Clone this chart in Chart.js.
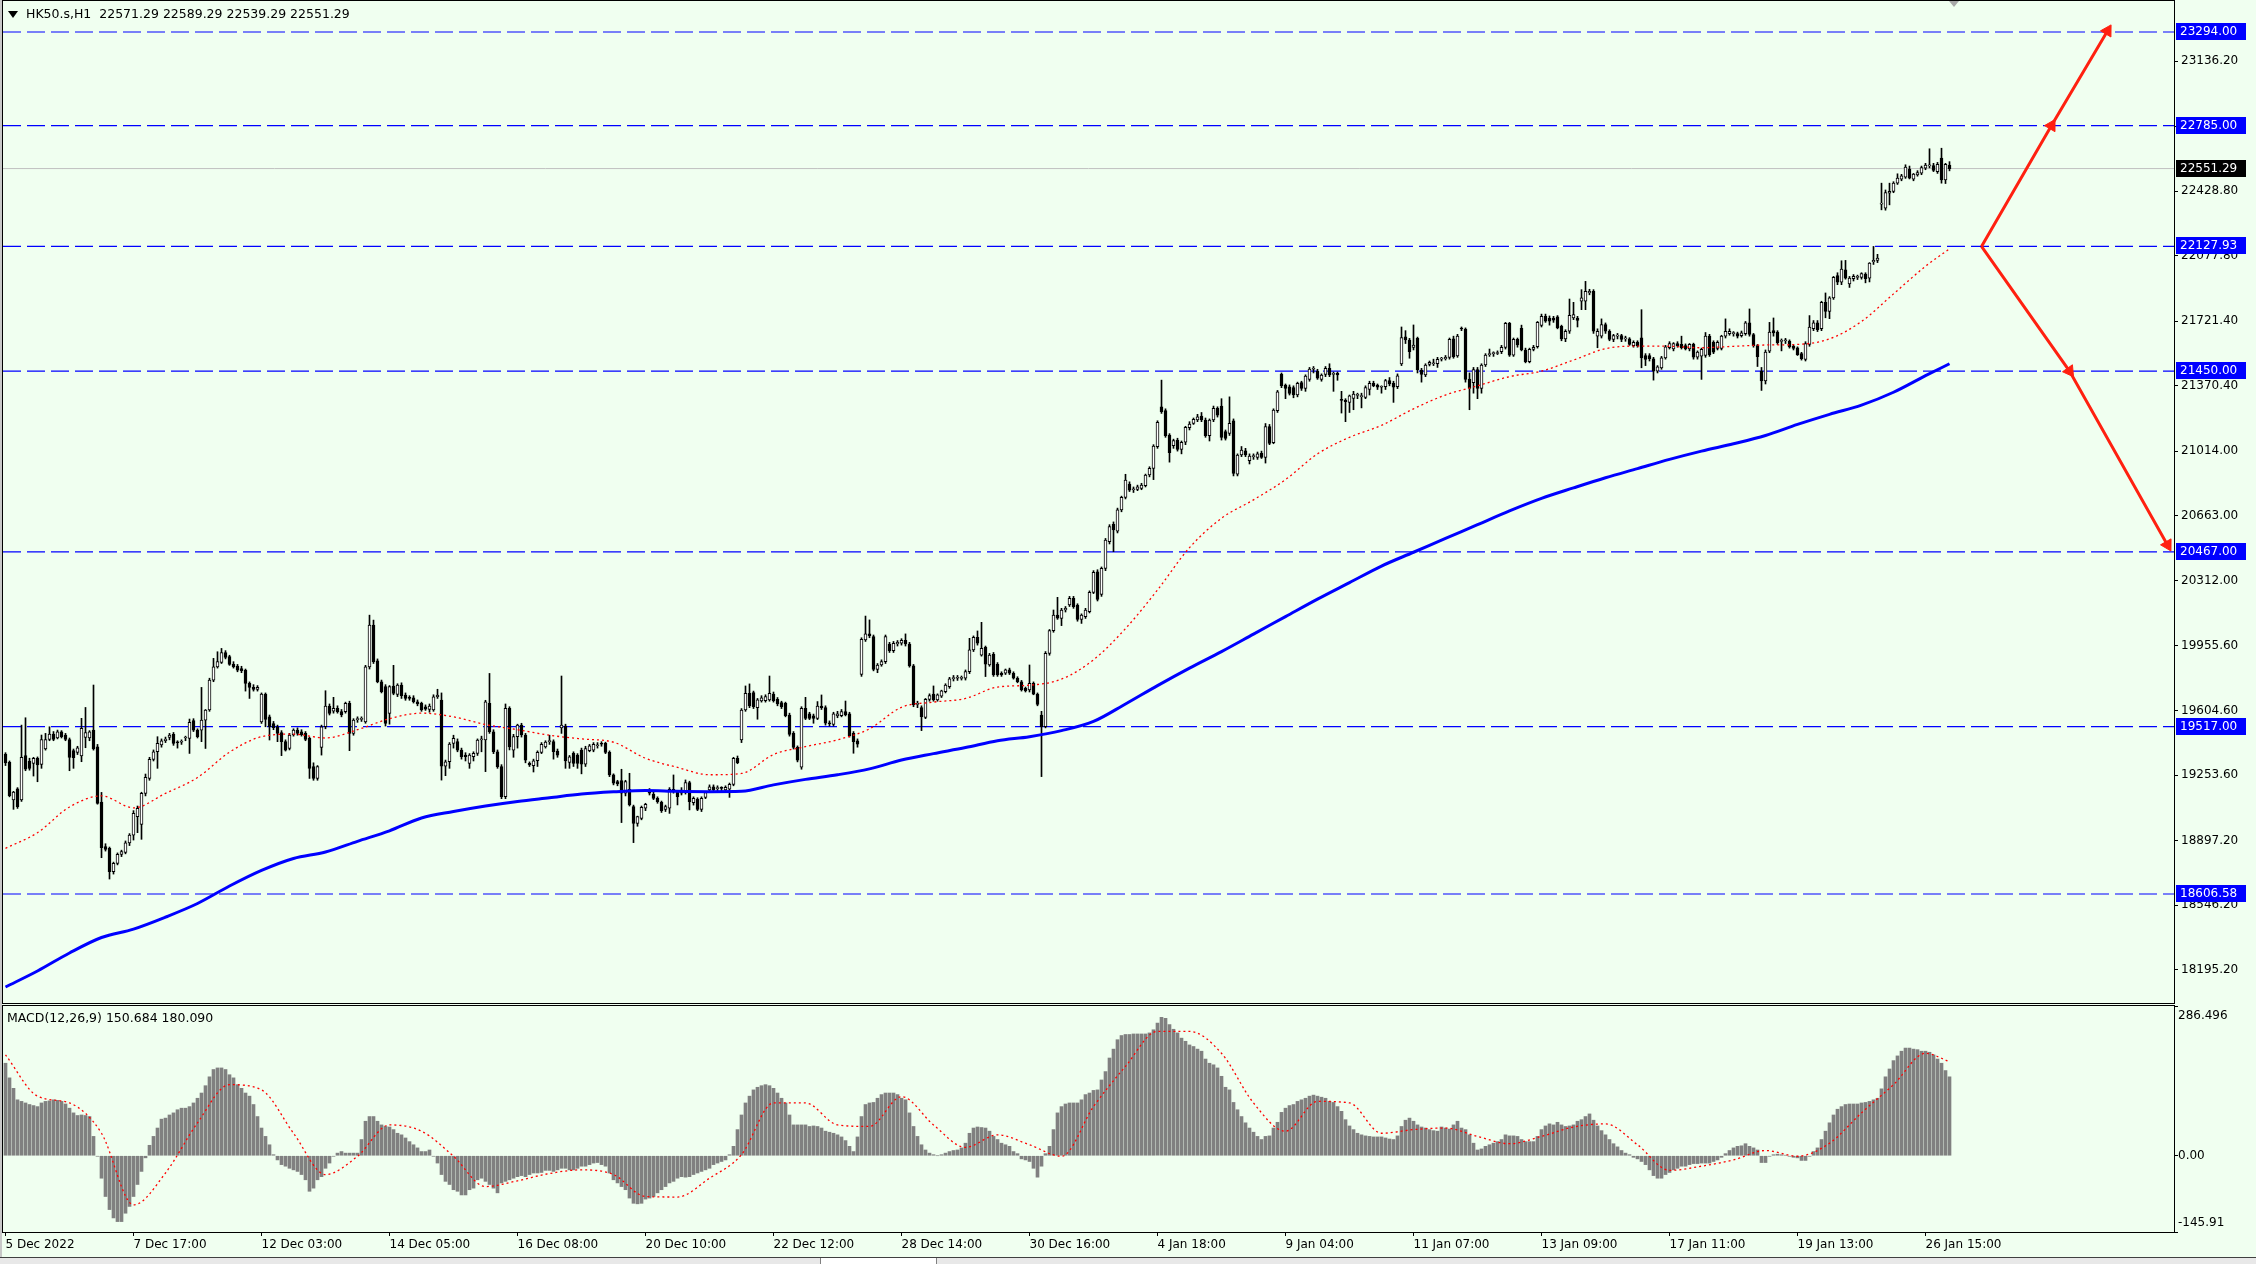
<!DOCTYPE html>
<html>
<head>
<meta charset="utf-8">
<script src="https://cdn.jsdelivr.net/npm/chart.js@4.4.1/dist/chart.umd.min.js"></script>
<style>
  html, body { margin: 0; padding: 0; background: #f0fff0; }
  body { width: 2256px; height: 1264px; position: relative; overflow: hidden; font-family: "DejaVu Sans", sans-serif; }
  canvas { position: absolute; left: 0; }
  #main { top: 0; }
  #macd { top: 1005px; }
  .txt { position: absolute; font-size: 12.5px; line-height: 16px; color: #000; white-space: pre; }
  #title { left: 26px; top: 6px; }
  #tri { position: absolute; left: 8px; top: 11px; width: 0; height: 0;
         border-left: 5px solid transparent; border-right: 5px solid transparent; border-top: 7px solid #000; }
  #shift { position: absolute; left: 1949px; top: 1px; width: 0; height: 0;
           border-left: 5px solid transparent; border-right: 5px solid transparent; border-top: 6px solid #a8a8a8; }
  #macdLabel { left: 7px; top: 1010px; }
  #edge { position: absolute; left: 0; top: 0; width: 2px; height: 1257px; background: #c8c8c8; }
  #strip { position: absolute; left: 0; top: 1257px; width: 2256px; height: 7px; background: #e8e8e8; border-top: 1px solid #404040; }
  #tab { position: absolute; left: 820px; top: 1258px; width: 115px; height: 6px; background: #fff; border-left: 1px solid #808080; border-right: 1px solid #808080; }
</style>
</head>
<body>
<canvas id="main" width="2256" height="1004"></canvas>
<canvas id="macd" width="2256" height="252"></canvas>
<div id="edge"></div>
<div id="tri"></div>
<div class="txt" id="title">HK50.s,H1  22571.29 22589.29 22539.29 22551.29</div>
<div id="shift"></div>
<div class="txt" id="macdLabel">MACD(12,26,9) 150.684 180.090</div>
<div id="strip"></div>
<div id="tab"></div>
<script>
// horizontal levels drawn on the chart
const levels = [23294.00, 22785.00, 22127.93, 21450.00, 20467.00, 19517.00, 18606.58];
const bidPrice = 22551.29;

// right price axis
const priceTicks = [23136.2, 22782.4, 22428.8, 22077.8, 21721.4, 21370.4, 21014.0, 20663.0,
                    20312.0, 19955.6, 19604.6, 19253.6, 18897.2, 18546.2, 18195.2];
const macdAxisLabels = ['286.496', '0.00', '-145.91'];

// time axis (one label every 32 H1 bars)
const timeTickBars = [0, 32, 64, 96, 128, 160, 192, 224, 256, 288, 320, 352, 384, 416, 448, 480];
const timeLabels = ['5 Dec 2022', '7 Dec 17:00', '12 Dec 03:00', '14 Dec 05:00', '16 Dec 08:00',
                    '20 Dec 10:00', '22 Dec 12:00', '28 Dec 14:00', '30 Dec 16:00', '4 Jan 18:00',
                    '9 Jan 04:00', '11 Jan 07:00', '13 Jan 09:00', '17 Jan 11:00', '19 Jan 13:00',
                    '26 Jan 15:00'];

// HK50 H1 candles: [open, high, low, close]
const ohlc = [
  // 0
  [19368,19375,19305,19320],[19322,19330,19135,19141],[19118,19165,19067,19161],[19179,19185,19072,19081],
  [19118,19525,19110,19350],[19359,19565,19277,19286],[19330,19345,19280,19290],[19317,19350,19248,19344],
  [19344,19352,19217,19308],[19311,19471,19290,19447],
  // 10
  [19395,19480,19389,19447],[19447,19516,19440,19476],[19476,19490,19440,19447],[19456,19498,19450,19489],
  [19489,19495,19455,19462],[19471,19480,19440,19447],[19447,19455,19277,19350],[19386,19395,19290,19348],
  [19377,19410,19365,19402],[19357,19562,19326,19507],
  // 20
  [19458,19621,19402,19484],[19456,19495,19440,19489],[19498,19743,19389,19395],[19407,19420,19095,19099],
  [19107,19159,18804,18858],[18864,18880,18840,18849],[18855,18862,18688,18728],[18728,18780,18715,18773],
  [18773,18830,18765,18822],[18822,18845,18810,18837],
  // 30
  [18833,18895,18825,18885],[18885,18935,18870,18927],[18927,19060,18900,19045],[19027,19085,18940,19072],
  [18985,19160,18904,19154],[19154,19259,19140,19241],[19235,19350,19225,19339],[19339,19390,19330,19380],
  [19380,19462,19290,19426],[19417,19450,19405,19440],
  // 40
  [19440,19460,19430,19449],[19458,19480,19445,19471],[19475,19485,19415,19426],[19430,19440,19400,19429],
  [19432,19445,19420,19435],[19455,19465,19440,19458],[19453,19558,19371,19540],[19549,19560,19490,19498],
  [19498,19505,19455,19462],[19498,19730,19435,19552],
  // 50
  [19552,19610,19398,19607],[19607,19780,19600,19770],[19770,19888,19761,19842],[19842,19924,19835,19870],
  [19866,19942,19860,19919],[19919,19930,19885,19893],[19897,19905,19850,19855],[19855,19870,19835,19842],
  [19846,19855,19815,19824],[19833,19845,19810,19821],
  // 60
  [19824,19830,19710,19752],[19752,19760,19670,19730],[19730,19745,19710,19719],[19719,19740,19710,19730],
  [19543,19700,19534,19694],[19694,19700,19516,19556],[19570,19580,19444,19516],[19534,19545,19500,19511],
  [19516,19525,19435,19480],[19485,19495,19359,19435],
  // 70
  [19435,19445,19384,19389],[19398,19480,19390,19471],[19471,19505,19465,19498],[19498,19510,19470,19480],
  [19489,19500,19465,19473],[19480,19490,19440,19447],[19453,19460,19235,19290],[19299,19320,19225,19235],
  [19235,19305,19225,19299],[19404,19525,19362,19516],
  // 80
  [19516,19712,19505,19629],[19629,19640,19580,19589],[19601,19676,19590,19616],[19616,19630,19590,19598],
  [19598,19610,19570,19580],[19598,19650,19590,19643],[19643,19655,19386,19480],[19480,19560,19470,19552],
  [19555,19570,19540,19558],[19556,19570,19545,19560],
  // 90
  [19543,19850,19535,19842],[19842,20123,19830,20069],[20069,20096,19860,19870],[19875,19885,19755,19761],
  [19761,19770,19700,19707],[19734,19745,19520,19534],[19589,19740,19530,19734],[19737,19850,19690,19697],
  [19692,19750,19680,19743],[19743,19755,19670,19685],
  // 100
  [19688,19700,19660,19670],[19672,19685,19660,19670],[19674,19685,19645,19652],[19652,19662,19630,19640],
  [19643,19650,19600,19607],[19625,19635,19605,19612],[19610,19640,19595,19629],[19607,19690,19600,19679],
  [19679,19720,19670,19688],[19661,19700,19226,19302],
  // 110
  [19302,19335,19250,19326],[19326,19430,19290,19422],[19426,19470,19400,19453],[19435,19450,19380,19389],
  [19389,19400,19340,19353],[19362,19375,19330,19353],[19317,19370,19290,19362],[19353,19380,19330,19371],
  [19371,19450,19360,19444],[19444,19465,19380,19450],
  // 120
  [19444,19660,19272,19652],[19643,19806,19480,19489],[19489,19500,19370,19380],[19380,19390,19290,19299],
  [19299,19310,19125,19136],[19136,19640,19125,19616],[19616,19625,19390,19407],[19389,19475,19350,19462],
  [19462,19530,19400,19525],[19525,19535,19460,19471],
  // 130
  [19471,19480,19320,19335],[19317,19325,19300,19308],[19304,19340,19270,19331],[19331,19385,19300,19377],
  [19377,19430,19370,19420],[19407,19440,19400,19433],[19435,19470,19420,19437],[19435,19445,19340,19380],
  [19384,19395,19350,19362],[19510,19792,19480,19525],
  // 140
  [19520,19530,19290,19330],[19322,19360,19290,19353],[19371,19380,19300,19317],[19362,19370,19290,19317],
  [19389,19400,19260,19313],[19313,19410,19300,19398],[19386,19420,19380,19413],[19389,19430,19380,19420],
  [19413,19430,19400,19415],[19422,19435,19410,19421],
  // 150
  [19426,19432,19370,19377],[19377,19385,19245,19254],[19254,19260,19200,19209],[19218,19225,19195,19205],
  [19223,19285,18995,19155],[19155,19225,19140,19218],[19176,19263,19085,19091],[19082,19090,18886,18991],
  [18991,19030,18975,19027],[19018,19085,19010,19078],
  // 160
  [19073,19100,19060,19094],[19167,19180,19145,19155],[19149,19160,19120,19127],[19127,19135,19100,19109],
  [19105,19112,19050,19060],[19067,19090,19055,19082],[19073,19185,19045,19176],[19176,19254,19155,19163],
  [19163,19170,19091,19136],[19172,19185,19145,19155],
  // 170
  [19160,19227,19150,19212],[19212,19220,19064,19109],[19103,19135,19090,19127],[19123,19130,19060,19067],
  [19067,19135,19055,19127],[19132,19165,19125,19158],[19172,19200,19165,19190],[19190,19200,19165,19172],
  [19180,19195,19165,19181],[19182,19190,19160,19181],
  // 180
  [19172,19195,19165,19187],[19176,19210,19132,19203],[19203,19350,19195,19345],[19345,19357,19315,19321],
  [19444,19615,19430,19607],[19607,19738,19600,19698],[19698,19749,19620,19629],[19702,19710,19615,19625],
  [19620,19670,19557,19662],[19656,19685,19650,19674],
  // 190
  [19658,19690,19650,19680],[19662,19792,19655,19698],[19694,19705,19650,19658],[19665,19675,19630,19640],
  [19647,19655,19615,19625],[19644,19650,19570,19577],[19580,19590,19465,19475],[19480,19490,19395,19404],
  [19404,19412,19325,19335],[19296,19625,19285,19616],
  // 200
  [19616,19676,19555,19562],[19586,19595,19555,19562],[19575,19585,19535,19562],[19562,19653,19555,19629],
  [19629,19689,19610,19620],[19620,19630,19525,19535],[19538,19548,19520,19531],[19529,19595,19520,19586],
  [19575,19600,19565,19586],[19577,19610,19570,19598],
  // 210
  [19598,19656,19575,19580],[19586,19595,19460,19468],[19480,19490,19372,19435],[19439,19450,19405,19421],
  [19801,20000,19790,19992],[19988,20118,19980,20021],[20021,20097,20000,20010],[20006,20015,19820,19828],
  [19828,19860,19810,19852],[19852,19880,19845,19870],
  // 220
  [19870,20015,19860,20006],[19966,19975,19920,19930],[19930,19980,19920,19970],[19966,19985,19955,19975],
  [19970,19995,19960,19986],[19986,20021,19955,19966],[19966,19975,19840,19847],[19847,19855,19625,19635],
  [19638,19655,19620,19640],[19620,19630,19495,19571],
  // 230
  [19567,19670,19560,19665],[19665,19695,19655,19685],[19694,19738,19655,19662],[19662,19695,19655,19689],
  [19683,19715,19675,19711],[19707,19750,19700,19743],[19734,19785,19725,19776],[19778,19795,19765,19780],
  [19780,19795,19768,19781],[19779,19792,19770,19781],
  // 240
  [19780,19825,19770,19816],[19816,19997,19805,19934],[19934,20010,19925,20002],[20002,20037,19960,19970],
  [19906,20084,19900,19943],[19948,19955,19789,19856],[19852,19915,19845,19906],[19910,19920,19790,19798],
  [19856,19865,19790,19798],[19807,19815,19790,19798],
  // 250
  [19807,19830,19800,19825],[19825,19835,19800,19807],[19807,19815,19775,19780],[19780,19788,19755,19761],
  [19761,19768,19710,19716],[19725,19732,19705,19711],[19716,19852,19705,19752],[19752,19760,19690,19693],
  [19694,19700,19630,19638],[19580,19600,19245,19517],
  // 260
  [19517,19925,19510,19915],[19915,20045,19905,20039],[20039,20151,20030,20124],[20124,20220,20100,20106],
  [20105,20160,20066,20151],[20151,20170,20140,20160],[20178,20225,20170,20214],[20214,20225,20160,20169],
  [20178,20185,20090,20100],[20100,20130,20078,20124],
  // 270
  [20115,20160,20105,20151],[20142,20255,20135,20247],[20247,20365,20240,20356],[20359,20370,20200,20209],
  [20236,20385,20225,20377],[20377,20540,20365,20531],[20522,20615,20510,20604],[20617,20630,20468,20586],
  [20580,20705,20570,20695],[20695,20770,20685,20763],
  // 280
  [20763,20889,20755,20858],[20836,20848,20795,20803],[20805,20820,20790,20807],[20807,20830,20800,20821],
  [20812,20840,20805,20830],[20827,20890,20820,20885],[20885,20930,20875,20921],[20921,21050,20860,21043],
  [21039,21180,21030,21171],[21256,21401,21220,21229],
  // 290
  [21235,21245,21090,21099],[21102,21110,20955,21006],[21044,21080,21030,21072],[21075,21085,21015,21024],
  [21024,21070,21000,21063],[21063,21150,21050,21144],[21142,21175,21130,21162],[21166,21195,21160,21188],
  [21184,21215,21175,21202],[21206,21225,21175,21184],
  // 300
  [21184,21195,21090,21099],[21099,21190,21070,21184],[21184,21260,21175,21247],[21247,21256,21200,21211],
  [21260,21300,21075,21090],[21121,21130,21075,21084],[21111,21310,21100,21166],[21179,21190,20880,20894],
  [20889,21000,20880,20994],[20994,21040,20985,21021],
  // 310
  [21017,21030,20985,20994],[20963,21000,20945,20988],[20985,21000,20970,20988],[20981,21010,20970,21000],
  [21003,21015,20975,20981],[20981,21165,20950,21148],[21148,21160,21050,21057],[21061,21245,21055,21238],
  [21235,21345,21225,21338],[21434,21440,21360,21371],
  // 320
  [21374,21380,21300,21356],[21365,21375,21320,21329],[21360,21370,21305,21320],[21320,21390,21310,21383],
  [21387,21395,21345,21356],[21356,21430,21340,21423],[21405,21470,21395,21461],[21460,21475,21440,21461],
  [21450,21460,21405,21411],[21405,21435,21395,21429],
  // 330
  [21432,21475,21420,21465],[21465,21490,21420,21429],[21432,21445,21340,21434],[21438,21445,21400,21429],
  [21296,21340,21222,21290],[21293,21300,21175,21284],[21280,21320,21225,21316],[21302,21340,21240,21325],
  [21318,21330,21300,21320],[21311,21330,21250,21315],
  // 340
  [21307,21370,21300,21360],[21351,21395,21320,21383],[21383,21395,21365,21369],[21374,21380,21350,21362],
  [21362,21370,21330,21363],[21365,21405,21350,21398],[21398,21415,21370,21380],[21383,21395,21280,21362],
  [21365,21435,21355,21425],[21489,21690,21480,21633],
  // 350
  [21637,21670,21600,21619],[21619,21628,21520,21556],[21579,21701,21565,21592],[21628,21635,21440,21456],
  [21456,21465,21390,21432],[21429,21490,21420,21483],[21487,21505,21478,21498],[21490,21515,21480,21491],
  [21490,21525,21470,21514],[21515,21525,21505,21517],
  // 360
  [21517,21535,21510,21525],[21525,21630,21515,21623],[21626,21640,21520,21528],[21532,21650,21525,21641],
  [21682,21690,21670,21679],[21679,21685,21390,21405],[21407,21440,21240,21356],[21387,21470,21330,21459],
  [21459,21470,21300,21356],[21356,21490,21330,21483],
  // 370
  [21483,21545,21475,21537],[21540,21570,21530,21543],[21545,21555,21530,21546],[21546,21560,21540,21547],
  [21556,21590,21545,21579],[21579,21715,21570,21710],[21710,21715,21530,21537],[21537,21630,21530,21623],
  [21623,21630,21580,21592],[21682,21700,21560,21565],
  // 380
  [21565,21575,21495,21501],[21501,21575,21495,21568],[21568,21590,21560,21579],[21583,21720,21575,21715],
  [21699,21760,21690,21748],[21748,21760,21715,21721],[21739,21750,21700,21721],[21739,21748,21715,21727],
  [21745,21752,21680,21685],[21694,21700,21615,21625],
  // 390
  [21625,21675,21610,21667],[21667,21842,21655,21754],[21739,21824,21730,21757],[21739,21748,21690,21725],
  [21830,21893,21784,21848],[21830,21938,21784,21884],[21875,21895,21865,21884],[21884,21893,21655,21667],
  [21640,21680,21577,21667],[21640,21734,21630,21703],
  // 400
  [21703,21712,21655,21667],[21667,21675,21615,21622],[21622,21650,21610,21643],[21640,21655,21625,21641],
  [21643,21650,21610,21622],[21625,21640,21612,21626],[21625,21632,21590,21595],[21589,21615,21580,21607],
  [21607,21615,21580,21589],[21631,21784,21468,21522],
  // 410
  [21535,21545,21480,21513],[21535,21545,21505,21517],[21517,21525,21401,21450],[21450,21480,21440,21473],
  [21468,21530,21460,21522],[21522,21590,21515,21582],[21577,21610,21570,21600],[21571,21605,21560,21600],
  [21600,21610,21580,21589],[21595,21640,21570,21577],
  // 420
  [21589,21598,21565,21571],[21571,21600,21560,21595],[21595,21602,21515,21526],[21526,21560,21515,21553],
  [21531,21575,21405,21568],[21535,21660,21525,21640],[21640,21650,21530,21540],[21607,21615,21545,21553],
  [21573,21615,21565,21607],[21573,21645,21565,21640],
  // 430
  [21640,21734,21630,21667],[21654,21680,21645,21667],[21654,21665,21640,21655],[21654,21662,21630,21640],
  [21643,21668,21635,21658],[21654,21720,21645,21712],[21712,21788,21640,21649],[21649,21655,21580,21589],
  [21589,21595,21475,21528],[21450,21470,21345,21396],
  // 440
  [21396,21565,21380,21553],[21559,21715,21550,21662],[21671,21739,21640,21658],[21662,21670,21595,21604],
  [21612,21625,21560,21613],[21615,21628,21600,21617],[21613,21620,21575,21582],[21586,21592,21565,21573],
  [21577,21582,21535,21540],[21546,21552,21510,21517],
  // 450
  [21513,21610,21505,21600],[21595,21752,21585,21690],[21681,21725,21670,21712],[21712,21725,21665,21676],
  [21681,21830,21670,21824],[21824,21875,21740,21775],[21775,21855,21735,21848],[21848,21965,21840,21960],
  [21969,21985,21920,21933],[21933,22050,21920,22005],
  // 460
  [22001,22052,21950,21956],[21924,21965,21905,21956],[21953,21975,21940,21965],[21960,21972,21948,21961],
  [21960,21985,21950,21980],[21978,21985,21930,21953],[21956,22040,21935,22038],[22045,22128,22030,22052],
  [22052,22085,22040,22065],[22358,22472,22327,22362],
  // 470
  [22336,22435,22325,22421],[22418,22472,22354,22427],[22427,22480,22420,22472],[22472,22523,22465,22499],
  [22494,22520,22485,22512],[22505,22572,22498,22559],[22548,22565,22495,22499],[22494,22525,22485,22521],
  [22517,22540,22510,22530],[22526,22565,22518,22557],
  // 480
  [22554,22580,22545,22570],[22566,22659,22555,22568],[22568,22580,22535,22541],[22535,22585,22525,22575],
  [22608,22662,22472,22490],[22490,22580,22470,22575],[22571,22589,22539,22551]
];

// moving averages, read every 8 bars (last value at the last bar)
const maFast = [18855,18940,19080,19140,19075,19154,19240,19378,19462,19476,19455,19500,19560,19590,19570,19528,
  19500,19470,19450,19432,19345,19295,19255,19262,19365,19408,19445,19505,19622,19650,19670,19732,
  19742,19775,19880,20050,20260,20490,20650,20750,20860,21000,21090,21155,21245,21320,21370,21420,
  21450,21510,21572,21586,21585,21577,21585,21592,21595,21625,21720,21870,22020,22115];
const maSlow = [18101,18188,18286,18370,18416,18481,18555,18650,18735,18800,18835,18893,18950,19020,19055,19085,
  19110,19130,19150,19162,19170,19165,19163,19165,19200,19230,19255,19287,19335,19370,19403,19440,
  19462,19495,19545,19640,19740,19835,19925,20020,20115,20210,20300,20390,20465,20540,20615,20690,
  20758,20815,20870,20920,20970,21015,21055,21100,21160,21215,21265,21335,21425,21490];

// MACD(12,26,9) histogram, one value per bar
const macdHist = [
  177,149,129,107,104,101,98,96,94,101, 104,105,107,106,104,99,91,82,77,78,
  77,75,37,-1,-43,-78,-103,-119,-126,-126, -110,-97,-78,-55,-30,-4,20,37,53,70,
  72,78,82,88,91,91,94,101,110,120, 134,151,165,168,168,165,155,149,136,129,
  120,114,98,75,53,37,21,2,-8,-17, -20,-24,-27,-30,-36,-46,-68,-62,-46,-40,
  -24,-14,-1,5,8,5,5,5,5,31, 66,75,75,66,59,56,55,50,43,40,
  34,27,21,15,8,8,11,-1,-14,-36, -49,-55,-65,-68,-75,-75,-65,-62,-46,-43,
  -49,-55,-62,-71,-52,-49,-46,-43,-40,-38, -40,-36,-33,-33,-32,-28,-28,-30,-27,-24,
  -24,-27,-27,-24,-20,-20,-17,-14,-13,-17, -20,-33,-46,-52,-59,-65,-81,-91,-92,-91,
  -83,-81,-78,-71,-65,-59,-52,-49,-43,-40, -41,-40,-36,-33,-30,-27,-24,-17,-14,-11,
  -8,2,18,50,78,101,114,126,131,134, 136,134,129,120,110,101,78,59,59,59,
  59,56,57,56,53,47,45,43,40,36, 29,18,8,36,75,98,101,102,110,117,
  120,120,120,117,110,107,82,56,37,21, 11,5,2,0,2,5,8,10,11,15,
  24,43,53,55,54,53,47,37,31,24, 21,18,8,4,-6,-8,-11,-24,-41,-20,
  4,18,50,82,94,99,101,101,101,107, 117,120,125,126,145,161,187,204,222,230,
  232,232,233,233,233,233,235,241,254,265, 263,251,242,235,225,219,212,209,204,200,
  185,177,174,168,152,131,126,102,88,75, 63,53,45,37,31,37,38,53,64,83,
  91,96,98,104,107,110,114,116,114,112, 110,104,102,94,85,69,57,50,43,40,
  38,37,36,36,36,34,32,31,38,56, 68,72,66,59,55,53,50,48,47,55,
  53,51,59,66,53,50,40,24,11,13, 18,21,24,27,31,40,38,38,37,31,
  27,27,27,37,50,57,61,59,64,59, 56,57,59,66,69,75,80,68,57,48,
  40,31,23,17,10,5,2,-3,-6,-11, -17,-27,-38,-43,-43,-36,-32,-27,-24,-20,
  -20,-17,-15,-15,-14,-14,-14,-11,-8,-3, 4,10,15,18,19,23,18,15,11,-13,
  -13,-1,2,3,2,1,-1,-3,-4,-9, -9,-1,8,15,31,47,63,78,89,94,
  98,99,99,99,101,102,104,107,110,128, 151,166,182,191,200,206,206,204,203,200,
  200,198,193,185,177,163,151
];
// MACD signal line, read every 8 bars (last value at the last bar)
const macdSignal = [193,114,101,43,-94,-33,63,136,126,43,-36,-1,59,47,-1,-59,
  -48,-34,-27,-36,-78,-79,-43,2,101,101,59,56,113,59,16,40,
  21,-1,94,171,238,238,196,101,47,104,101,43,50,53,37,23,
  37,55,61,21,-28,-20,-8,10,-1,24,82,136,196,180];

// drawn arrows: [bar, price]
const arrowUp = [[494, 22127.93], [511.5, 22785], [525.5, 23300]];
const arrowDown = [[494, 22127.93], [516, 21450], [540.5, 20505]];

const XMIN = -0.625, XMAX = 542.125;
const PMIN = 18013.9, PMAX = 23462.6;
const MMIN = -145.91, MMAX = 286.496;
const FONT = { family: 'DejaVu Sans', size: 12 };
const FONTSTR = '12px "DejaVu Sans"';

const lastBar = ohlc.length - 1;
const every8 = arr => arr.map((v, k) => ({ x: Math.min(k * 8, lastBar), y: v }));

const frame = {
  id: 'frame',
  afterDraw(chart) {
    const { ctx, chartArea: a } = chart;
    ctx.save();
    ctx.strokeStyle = '#000';
    ctx.lineWidth = 1;
    ctx.strokeRect(a.left - 0.5, a.top - 0.5, a.right - a.left + 1, a.bottom - a.top + 1);
    ctx.restore();
  }
};

const levelTags = {
  id: 'levelTags',
  afterDatasetsDraw(chart) {
    const { ctx } = chart;
    const ys = chart.scales.y;
    ctx.save();
    ctx.font = FONTSTR;
    ctx.textBaseline = 'middle';
    const tag = (v, fill) => {
      const py = Math.round(ys.getPixelForValue(v));
      ctx.fillStyle = fill;
      ctx.fillRect(2176, py - 9, 70, 17);
      ctx.fillStyle = '#fff';
      ctx.fillText(v.toFixed(2), 2180, py);
    };
    levels.forEach(v => tag(v, '#0000ff'));
    tag(bidPrice, '#000');
    ctx.restore();
  }
};

const macdTags = {
  id: 'macdTags',
  afterDraw(chart) {
    const { ctx } = chart;
    const ys = chart.scales.y;
    ctx.save();
    ctx.font = FONTSTR;
    ctx.fillStyle = '#000';
    ctx.textBaseline = 'middle';
    ctx.fillText(macdAxisLabels[0], 2178, ys.getPixelForValue(MMAX) + 10);
    ctx.fillText(macdAxisLabels[1], 2178, ys.getPixelForValue(0));
    ctx.fillText(macdAxisLabels[2], 2178, ys.getPixelForValue(MMIN) - 9);
    ctx.restore();
  }
};

function arrowRotation(c) {
  const d = c.dataset.data, k = c.dataIndex;
  if (k === 0) return 0;
  const xs = c.chart.scales.x, ys = c.chart.scales.y;
  const dx = xs.getPixelForValue(d[k].x) - xs.getPixelForValue(d[k - 1].x);
  const dy = ys.getPixelForValue(d[k].y) - ys.getPixelForValue(d[k - 1].y);
  return Math.atan2(dx, -dy) * 180 / Math.PI;
}

function arrowSet(points) {
  return {
    type: 'line',
    data: points.map(p => ({ x: p[0], y: p[1] })),
    borderColor: '#ff2010',
    backgroundColor: '#ff2010',
    borderWidth: 3,
    pointStyle: 'triangle',
    pointRadius: c => (c.dataIndex === 0 ? 0 : 7),
    pointRotation: arrowRotation,
    pointBorderWidth: 1,
    clip: false,
    order: 0
  };
}

const levelSets = levels.map(v => ({
  type: 'line',
  data: [{ x: XMIN, y: v }, { x: XMAX, y: v }],
  borderColor: '#0000ff',
  borderWidth: 1.2,
  borderDash: [18, 6],
  pointRadius: 0,
  order: 9
}));

new Chart(document.getElementById('main'), {
  type: 'bar',
  data: {
    datasets: [
      ...levelSets,
      {
        type: 'line',
        data: [{ x: XMIN, y: bidPrice }, { x: XMAX, y: bidPrice }],
        borderColor: '#c0c0c0',
        borderWidth: 1,
        pointRadius: 0,
        order: 10
      },
      {
        data: ohlc.map((c, i) => ({ x: i, y: [c[2], c[1]] })),
        backgroundColor: '#000',
        barThickness: 1,
        grouped: false,
        order: 6
      },
      {
        data: ohlc.map((c, i) => ({ x: i, y: [c[0], c[3]] })),
        backgroundColor: ohlc.map(c => (c[3] >= c[0] ? '#ffffff' : '#000000')),
        borderColor: '#000',
        borderWidth: 1,
        borderSkipped: false,
        barThickness: 3,
        minBarLength: 1,
        grouped: false,
        order: 5
      },
      {
        type: 'line',
        data: every8(maFast),
        borderColor: '#ff0000',
        borderWidth: 1.3,
        borderDash: [2, 3],
        pointRadius: 0,
        cubicInterpolationMode: 'monotone',
        order: 3
      },
      {
        type: 'line',
        data: every8(maSlow),
        borderColor: '#0000ff',
        borderWidth: 3,
        pointRadius: 0,
        cubicInterpolationMode: 'monotone',
        order: 2
      },
      arrowSet(arrowUp),
      arrowSet(arrowDown)
    ]
  },
  options: {
    responsive: false,
    animation: false,
    events: [],
    layout: { autoPadding: false, padding: { left: 3, top: 1, bottom: 1, right: 0 } },
    plugins: { legend: { display: false }, tooltip: { enabled: false } },
    scales: {
      x: { type: 'linear', min: XMIN, max: XMAX, display: false, offset: false, grid: { offset: false } },
      y: {
        type: 'linear',
        position: 'right',
        min: PMIN,
        max: PMAX,
        afterBuildTicks: s => { s.ticks = priceTicks.map(v => ({ value: v })); },
        afterFit: s => { s.width = 82; s.paddingTop = 0; s.paddingBottom = 0; },
        border: { display: false },
        grid: { drawOnChartArea: false, drawTicks: true, tickLength: 4, color: '#000' },
        ticks: { font: FONT, color: '#000', padding: 3, autoSkip: false, callback: v => v.toFixed(2) }
      }
    }
  },
  plugins: [frame, levelTags]
});

new Chart(document.getElementById('macd'), {
  type: 'bar',
  data: {
    datasets: [
      {
        data: macdHist.map((v, i) => ({ x: i, y: v })),
        backgroundColor: '#808080',
        barThickness: 3,
        grouped: false,
        order: 2
      },
      {
        type: 'line',
        data: every8(macdSignal),
        borderColor: '#ff0000',
        borderWidth: 1.3,
        borderDash: [2, 3],
        pointRadius: 0,
        cubicInterpolationMode: 'monotone',
        order: 1
      }
    ]
  },
  options: {
    responsive: false,
    animation: false,
    events: [],
    layout: { autoPadding: false, padding: { left: 3, top: 1, bottom: 0, right: 0 } },
    plugins: { legend: { display: false }, tooltip: { enabled: false } },
    scales: {
      x: {
        type: 'linear',
        min: XMIN,
        max: XMAX,
        offset: false,
        afterBuildTicks: s => { s.ticks = timeTickBars.map(v => ({ value: v })); },
        afterFit: s => { s.height = 25; s.paddingLeft = 0; s.paddingRight = 0; },
        border: { display: false },
        grid: { offset: false, drawOnChartArea: false, drawTicks: true, tickLength: 4, color: '#000' },
        ticks: {
          font: FONT, color: '#000', padding: 2, align: 'start', autoSkip: false, maxRotation: 0,
          callback: (v, i) => timeLabels[i]
        }
      },
      y: {
        type: 'linear',
        position: 'right',
        min: MMIN,
        max: MMAX,
        afterBuildTicks: s => { s.ticks = [MMAX, 0, MMIN].map(v => ({ value: v })); },
        afterFit: s => { s.width = 82; s.paddingTop = 0; s.paddingBottom = 0; },
        border: { display: false },
        grid: { drawOnChartArea: false, drawTicks: true, tickLength: 4, color: '#000' },
        ticks: { display: false }
      }
    }
  },
  plugins: [frame, macdTags]
});
</script>
</body>
</html>
